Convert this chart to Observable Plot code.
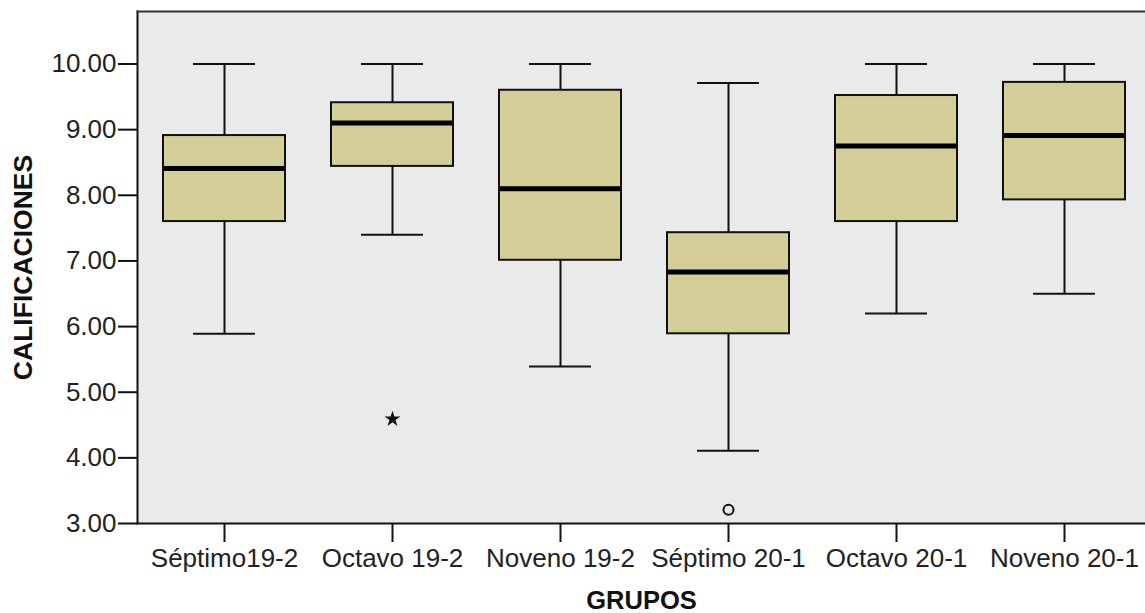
<!DOCTYPE html>
<html>
<head>
<meta charset="utf-8">
<script src="https://cdn.jsdelivr.net/npm/d3@7"></script>
<script src="https://cdn.jsdelivr.net/npm/@observablehq/plot@0.6"></script>
<style>
  html, body { margin: 0; padding: 0; background: #fff; }
</style>
</head>
<body>
<div id="chart"></div>
<script>
const groups = ["Séptimo19-2", "Octavo 19-2", "Noveno 19-2", "Séptimo 20-1", "Octavo 20-1", "Noveno 20-1"];
const whiskerLow  = [5.89, 7.40, 5.39, 4.11, 6.20, 6.50];
const q1          = [7.60, 8.44, 7.01, 5.89, 7.60, 7.93];
const median      = [8.41, 9.10, 8.10, 6.83, 8.75, 8.91];
const q3          = [8.91, 9.41, 9.60, 7.43, 9.52, 9.72];
const whiskerHigh = [10.00, 10.00, 10.00, 9.71, 10.00, 10.00];

const extremeGroups = ["Octavo 19-2"];
const extremeValues = [4.59];
const outlierGroups = ["Séptimo 20-1"];
const outlierValues = [3.21];

const yTicks = [3, 4, 5, 6, 7, 8, 9, 10];
const xTitle = "GRUPOS";
const yTitle = "CALIFICACIONES";

const boxes = groups.map((g, i) => ({
  group: g, lo: whiskerLow[i], q1: q1[i], med: median[i], q3: q3[i], hi: whiskerHigh[i]
}));
const extremes = extremeGroups.map((g, i) => ({group: g, value: extremeValues[i]}));
const outliers = outlierGroups.map((g, i) => ({group: g, value: outlierValues[i]}));

const chart = Plot.plot({
  width: 1145,
  height: 613,
  marginTop: 11,
  marginBottom: 90,
  marginLeft: 137,
  marginRight: 0,
  style: {fontFamily: "'Liberation Sans', Arial, sans-serif", background: "white", color: "#222"},
  x: {type: "band", domain: groups, range: [137, 1150], padding: 0, label: null},
  y: {domain: [3, 10.8], label: null},
  marks: [
    Plot.frame({fill: "#eaeaea"}),
    Plot.ruleX(boxes, {x: "group", y1: "lo", y2: "q1", stroke: "#111", strokeWidth: 2}),
    Plot.ruleX(boxes, {x: "group", y1: "q3", y2: "hi", stroke: "#111", strokeWidth: 2}),
    Plot.tickY(boxes, {x: "group", y: "lo", stroke: "#111", strokeWidth: 2, insetLeft: 53, insetRight: 53}),
    Plot.tickY(boxes, {x: "group", y: "hi", stroke: "#111", strokeWidth: 2, insetLeft: 53, insetRight: 53}),
    Plot.barY(boxes, {x: "group", y1: "q1", y2: "q3", fill: "#d3ce97", stroke: "#111", strokeWidth: 2, insetLeft: 23, insetRight: 23}),
    Plot.tickY(boxes, {x: "group", y: "med", stroke: "black", strokeWidth: 5, insetLeft: 24, insetRight: 24}),
    Plot.dot(extremes, {x: "group", y: "value", symbol: "star", r: 5, fill: "#111", stroke: "none"}),
    Plot.dot(outliers, {x: "group", y: "value", symbol: "circle", r: 5, fill: "none", stroke: "#111", strokeWidth: 2}),
    Plot.frame({anchor: "left", stroke: "#111", strokeWidth: 2}),
    Plot.frame({anchor: "top", stroke: "#333", strokeWidth: 2}),
    Plot.frame({anchor: "bottom", stroke: "#111", strokeWidth: 2}),
    Plot.axisY({ticks: yTicks, tickFormat: d3.format(".2f"), tickSize: 19, tickPadding: 2, fontSize: 26, strokeWidth: 2, stroke: "#111", label: null}),
    Plot.axisX({tickSize: 19, tickPadding: 6, fontSize: 26, strokeWidth: 2, stroke: "#111", label: null}),
    Plot.text([xTitle], {text: d => d, frameAnchor: "bottom", textAnchor: "middle", lineAnchor: "middle", dy: 77, fontSize: 25.5, fontWeight: "bold", fill: "#111"}),
    Plot.text([yTitle], {text: d => d, frameAnchor: "left", textAnchor: "middle", lineAnchor: "middle", dx: -114, rotate: -90, fontSize: 26.5, fontWeight: "bold", fill: "#111"})
  ]
});
document.getElementById("chart").appendChild(chart);
</script>
</body>
</html>
